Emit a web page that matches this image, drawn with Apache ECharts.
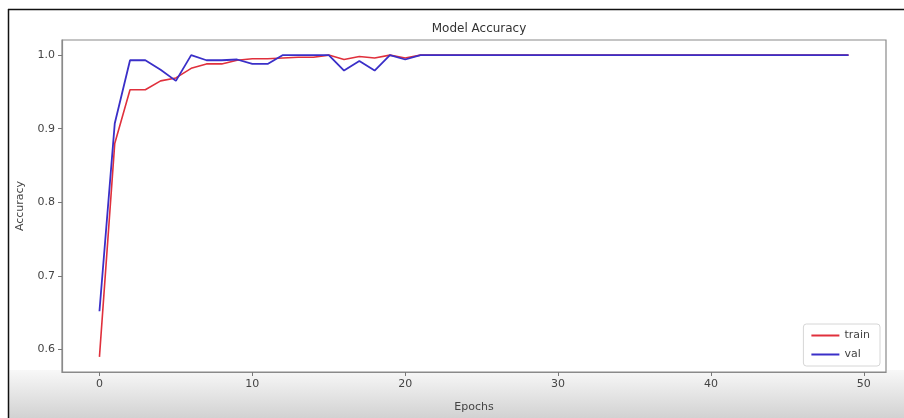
<!DOCTYPE html>
<html>
<head>
<meta charset="utf-8">
<script src="https://cdn.jsdelivr.net/npm/echarts@6/dist/echarts.min.js"></script>
<style>html,body{margin:0;padding:0;background:#fff}#c{width:904px;height:418px}</style>
</head>
<body>
<div id="c"></div>
<script>
const epochs = [0,1,2,3,4,5,6,7,8,9,10,11,12,13,14,15,16,17,18,19,20,21,22,23,24,25,26,27,28,29,30,31,32,33,34,35,36,37,38,39,40,41,42,43,44,45,46,47,48,49];
const trainAcc = [0.590,0.880,0.953,0.953,0.965,0.969,0.982,0.988,0.988,0.993,0.995,0.995,0.996,0.997,0.997,1.000,0.994,0.998,0.996,1.000,0.996,1.000,1.000,1.000,1.000,1.000,1.000,1.000,1.000,1.000,1.000,1.000,1.000,1.000,1.000,1.000,1.000,1.000,1.000,1.000,1.000,1.000,1.000,1.000,1.000,1.000,1.000,1.000,1.000,1.000];
const valAcc = [0.652,0.907,0.993,0.993,0.980,0.965,1.000,0.993,0.993,0.994,0.988,0.988,1.000,1.000,1.000,1.000,0.979,0.992,0.979,1.000,0.994,1.000,1.000,1.000,1.000,1.000,1.000,1.000,1.000,1.000,1.000,1.000,1.000,1.000,1.000,1.000,1.000,1.000,1.000,1.000,1.000,1.000,1.000,1.000,1.000,1.000,1.000,1.000,1.000,1.000];
const xTicks = [0,10,20,30,40,50];
const yTicks = [0.6,0.7,0.8,0.9,1.0];

const font = 'DejaVu Sans';
const chart = echarts.init(document.getElementById('c'), null, {renderer:'canvas'});
chart.setOption({
  backgroundColor: '#ffffff',
  animation: false,
  textStyle: {fontFamily: font},
  title: {text: 'Model Accuracy', left: 474, textAlign: 'center', top: 18,
    textStyle: {fontFamily: font, fontSize: 12, fontWeight: 'normal', color: '#333'}},
  graphic: [
    {type:'rect', z:-5, shape:{x:8, y:370, width:896, height:48},
      style:{fill:{type:'linear', x:0, y:0, x2:0, y2:1, colorStops:[{offset:0,color:'#f8f8f8'},{offset:1,color:'#d2d2d2'}]}}},
    {type:'line', z:10, shape:{x1:8, y1:9.5, x2:904, y2:9.5}, style:{stroke:'#111', lineWidth:1.5}},
    {type:'line', z:10, shape:{x1:8.5, y1:9, x2:8.5, y2:418}, style:{stroke:'#111', lineWidth:1.5}}
  ],
  grid: {left: 62, right: 18, top: 40, bottom: 46, show: true, borderColor: '#8a8a8a', borderWidth: 1.2, backgroundColor: '#ffffff'},
  legend: {
    orient: 'vertical', right: 24, bottom: 52, itemWidth: 28, itemHeight: 2, itemGap: 8,
    icon: 'rect',
    padding: [6, 10, 6, 8], borderColor: '#d6d6d6', borderWidth: 1, borderRadius: 3, backgroundColor: '#fff',
    textStyle: {fontFamily: font, fontSize: 11, color: '#444'},
    data: ['train', 'val']
  },
  xAxis: {
    type: 'value', min: -2.45, max: 51.45,
    name: 'Epochs', nameLocation: 'middle', nameGap: 30,
    nameTextStyle: {fontFamily: font, fontSize: 11, color: '#444'},
    axisLine: {show: true, onZero: false, lineStyle: {color: '#8a8a8a', width: 1.2}},
    axisTick: {show: true, length: 4, customValues: xTicks, lineStyle: {color: '#777'}},
    axisLabel: {customValues: xTicks, margin: 7, fontFamily: font, fontSize: 11, color: '#444'},
    splitLine: {show: false}
  },
  yAxis: {
    type: 'value', min: 0.5695, max: 1.0205,
    name: 'Accuracy', nameLocation: 'middle', nameGap: 36,
    nameTextStyle: {fontFamily: font, fontSize: 11, color: '#444'},
    axisLine: {show: true, onZero: false, lineStyle: {color: '#8a8a8a', width: 1.2}},
    axisTick: {show: true, length: 4, customValues: yTicks, lineStyle: {color: '#777'}},
    axisLabel: {customValues: yTicks, margin: 7, fontFamily: font, fontSize: 11, color: '#444',
      formatter: v => v.toFixed(1)},
    splitLine: {show: false}
  },
  series: [
    {name: 'train', type: 'line', symbol: 'none', data: epochs.map((e,i)=>[e, trainAcc[i]]),
      lineStyle: {color: '#e0303c', width: 1.6}, itemStyle: {color: '#e0303c'}},
    {name: 'val', type: 'line', symbol: 'none', data: epochs.map((e,i)=>[e, valAcc[i]]),
      lineStyle: {color: '#3a2fc8', width: 1.8}, itemStyle: {color: '#3a2fc8'}}
  ]
});
</script>
</body>
</html>
